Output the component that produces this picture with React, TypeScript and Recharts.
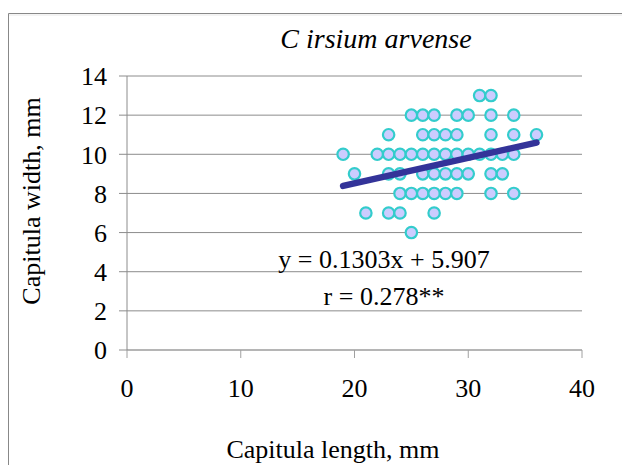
import React from 'react';
import { ScatterChart, Scatter, XAxis, YAxis, CartesianGrid } from 'recharts';

// Capitula length (x, mm) and width (y, mm)
const capitulaLength = [
  31, 32,
  25, 26, 27, 29, 30, 32, 34,
  23, 26, 27, 28, 29, 32, 34, 36,
  19, 22, 23, 24, 25, 26, 27, 28, 29, 30, 31, 32, 33, 34,
  20, 23, 24, 26, 27, 28, 29, 30, 32, 33,
  24, 25, 26, 27, 28, 29, 32, 34,
  21, 23, 24, 27,
  25,
];
const capitulaWidth = [
  13, 13,
  12, 12, 12, 12, 12, 12, 12,
  11, 11, 11, 11, 11, 11, 11, 11,
  10, 10, 10, 10, 10, 10, 10, 10, 10, 10, 10, 10, 10, 10,
  9, 9, 9, 9, 9, 9, 9, 9, 9, 9,
  8, 8, 8, 8, 8, 8, 8, 8,
  7, 7, 7, 7,
  6,
];

const xTicks = [0, 10, 20, 30, 40];
const yTicks = [0, 2, 4, 6, 8, 10, 12, 14];

const trendSlope = 0.1303;
const trendIntercept = 5.907;
const trendRange = [19, 36];

const titleText = 'C irsium arvense';
const xLabel = 'Capitula length, mm';
const yLabel = 'Capitula width, mm';
const equationText = 'y = 0.1303x + 5.907';
const rText = 'r = 0.278**';

const points = capitulaLength.map((x, i) => ({ x, y: capitulaWidth[i] }));
const trend = trendRange.map((x) => ({ x, y: trendSlope * x + trendIntercept }));

const FONT = "'Liberation Serif', 'Times New Roman', serif";

const Marker = (props: any) => {
  const { cx, cy } = props;
  if (cx == null || cy == null) return <g />;
  return <circle cx={cx} cy={cy} r={5.7} fill="#ccccff" stroke="#33cccc" strokeWidth={2.2} />;
};

const NoShape = () => <g />;

export default function App() {
  const tickStyle = { fill: '#000', fontSize: 26, fontFamily: FONT };
  return (
    <div style={{ position: 'fixed', left: 0, top: 0, width: 622, height: 465, background: '#fff' }}>
      <ScatterChart width={622} height={465} margin={{ top: 76, right: 40, bottom: 85, left: 0 }}>
        <CartesianGrid vertical={false} stroke="#8c8c8c" strokeWidth={1} />
        <XAxis
          type="number"
          dataKey="x"
          domain={[0, 40]}
          ticks={xTicks}
          interval={0}
          height={30}
          tickSize={8}
          tickMargin={21}
          axisLine={{ stroke: '#b5b5b5', strokeWidth: 2 }}
          tickLine={{ stroke: '#a0a0a0' }}
          tick={tickStyle}
          allowDataOverflow
        />
        <YAxis
          type="number"
          dataKey="y"
          domain={[0, 14]}
          ticks={yTicks}
          interval={0}
          width={127}
          tickSize={8}
          tickMargin={12}
          axisLine={{ stroke: '#8c8c8c' }}
          tickLine={{ stroke: '#8c8c8c' }}
          tick={tickStyle}
          allowDataOverflow
        />
        <Scatter data={points} shape={Marker} isAnimationActive={false} />
        <Scatter
          data={trend}
          shape={NoShape}
          line={{ stroke: '#333399', strokeWidth: 6.5, strokeLinecap: 'round' }}
          lineType="joint"
          isAnimationActive={false}
        />
      </ScatterChart>
      <svg
        width={622}
        height={465}
        style={{ position: 'absolute', left: 0, top: 0, pointerEvents: 'none' }}
      >
        <line x1={8.5} y1={13.5} x2={622} y2={13.5} stroke="#888" strokeWidth={1} />
        <line x1={8.5} y1={15} x2={622} y2={15} stroke="#e8e8e8" strokeWidth={1} />
        <line x1={8.5} y1={13.5} x2={8.5} y2={465} stroke="#888" strokeWidth={1} />
        <text x={376} y={48} textAnchor="middle" fontFamily={FONT} fontStyle="italic" fontSize={28} fill="#000">
          {titleText}
        </text>
        <text x={384} y={268} textAnchor="middle" fontFamily={FONT} fontSize={26} fill="#000">
          {equationText}
        </text>
        <text x={384} y={305} textAnchor="middle" fontFamily={FONT} fontSize={26} fill="#000">
          {rText}
        </text>
        <text x={333} y={458} textAnchor="middle" fontFamily={FONT} fontSize={26} fill="#000">
          {xLabel}
        </text>
        <text
          x={0}
          y={0}
          textAnchor="middle"
          fontFamily={FONT}
          fontSize={26}
          fill="#000"
          transform="translate(40 201) rotate(-90)"
        >
          {yLabel}
        </text>
      </svg>
    </div>
  );
}
